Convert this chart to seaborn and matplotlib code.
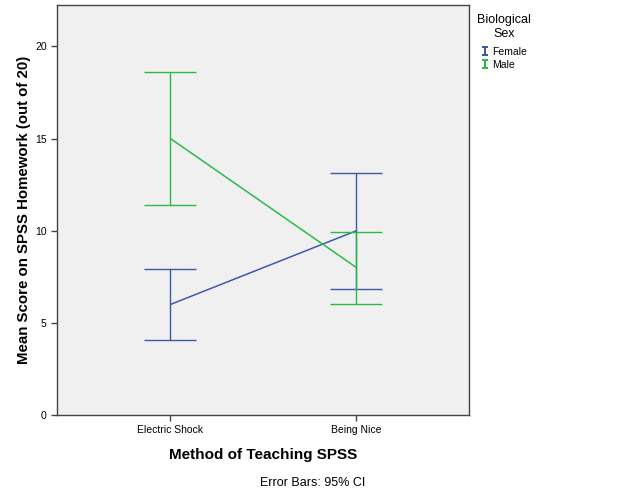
import numpy as np
import pandas as pd
import matplotlib
matplotlib.use("Agg")
import matplotlib.pyplot as plt
from matplotlib.lines import Line2D
import seaborn as sns

# ------------------------------------------------------------------
# Data (means and 95% CI bounds)
# ------------------------------------------------------------------
methods = ["Electric Shock", "Being Nice"]
sexes = ["Female", "Male"]
female_mean = [6.0, 10.0]
female_lo = [4.05, 6.85]
female_hi = [7.95, 13.15]
male_mean = [15.0, 8.0]
male_lo = [11.4, 6.05]
male_hi = [18.6, 9.95]

colors = {"Female": "#3E58AC", "Male": "#2EB848"}

df = pd.DataFrame({
    "method": methods * 2,
    "sex": ["Female"] * 2 + ["Male"] * 2,
    "mean": female_mean + male_mean,
    "lo": female_lo + male_lo,
    "hi": female_hi + male_hi,
})

sns.set_style("ticks")
plt.rcParams["font.family"] = ["Liberation Sans", "DejaVu Sans"]
plt.rcParams["text.color"] = "black"
plt.rcParams["axes.labelcolor"] = "black"
plt.rcParams["xtick.color"] = "black"
plt.rcParams["ytick.color"] = "black"

fig = plt.figure(figsize=(6.25, 5), dpi=100)
ax = fig.add_axes([57 / 625, 1 - 415 / 500, 412 / 625, 410 / 500])
ax.set_facecolor("#F0F0F0")

sns.pointplot(
    data=df, x="method", y="mean", hue="sex", order=methods, hue_order=sexes,
    palette=colors, markers="", linestyles="-", errorbar=None,
    linewidth=1.1, legend=False, ax=ax,
)

# error bars (95% CI) at the categorical positions
for sex in sexes:
    sub = df[df["sex"] == sex].set_index("method").loc[methods]
    xpos = np.arange(len(methods))
    ax.errorbar(
        xpos, sub["mean"],
        yerr=[sub["mean"] - sub["lo"], sub["hi"] - sub["mean"]],
        fmt="none", ecolor=colors[sex], elinewidth=1.0, capsize=19,
        capthick=1.0,
    )

ax.set_xlim(-0.61, 1.605)
ax.set_ylim(0, 22.25)
ax.set_yticks([0, 5, 10, 15, 20])
ax.tick_params(axis="both", labelsize=7.5, length=4, width=1, color="#444444")
for s in ax.spines.values():
    s.set_visible(True)
    s.set_color("#444444")
    s.set_linewidth(1.0)

ax.set_xlabel("Method of Teaching SPSS", fontsize=11, fontweight="bold", labelpad=9)
ax.set_ylabel("Mean Score on SPSS Homework (out of 20)", fontsize=10.8,
              fontweight="bold", labelpad=3)

# legend with small I-beam symbols
handles = [
    Line2D([], [], linestyle="none", marker=r"$\mathtt{I}$", markersize=6.5,
           color=colors[s], markeredgewidth=0)
    for s in sexes
]
leg = fig.legend(
    handles, sexes, title="Biological\nSex", loc="upper left",
    bbox_to_anchor=(468 / 625, 1 - 5 / 500), frameon=False, fontsize=7.5,
    title_fontsize=9, handlelength=0.6, handletextpad=0.4, labelspacing=0.25,
)
leg.get_title().set_multialignment("center")
leg._legend_box.sep = 5  # extra gap between title and entries

fig.text(313 / 625, 1 - 483 / 500, "Error Bars: 95% CI", ha="center",
         va="center", fontsize=9)

fig.savefig("out.png", dpi=100)
